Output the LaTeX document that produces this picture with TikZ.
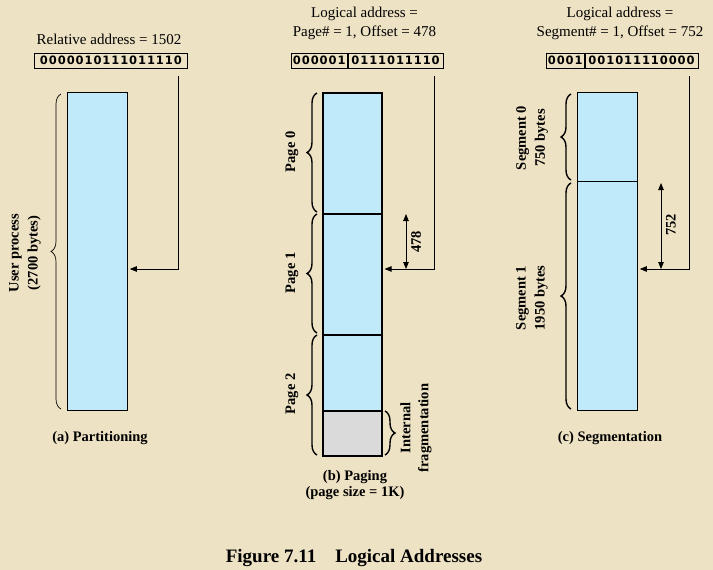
\documentclass[tikz,border=0pt]{standalone}
\usepackage{fontspec}
\setmainfont{Liberation Serif}
\newfontfamily\addrfont[LetterSpace=8]{DejaVu Sans}
\usetikzlibrary{arrows.meta,decorations.pathreplacing}
\definecolor{bg}{RGB}{238,226,196}
\definecolor{mem}{RGB}{192,234,250}
\definecolor{frag}{RGB}{218,218,218}
\begin{document}
\begin{tikzpicture}[x=1pt,y=-1pt,
  lbl/.style={font=\fontsize{14.5}{19}\selectfont\bfseries, align=center, inner sep=0},
  ttl/.style={font=\fontsize{15}{19}\selectfont, align=center, inner sep=0},
  addr/.style={draw, line width=0.8pt, font=\addrfont\bfseries\fontsize{11.5}{12}\selectfont,
    inner sep=0, minimum height=15pt, anchor=west},
  memthin/.style={draw, line width=0.8pt, fill=mem, inner sep=0, anchor=north west},
  memthick/.style={draw, line width=1.6pt, fill=mem, inner sep=0, anchor=north west},
  ptr/.style={line width=0.8pt, -{Triangle[length=7pt,width=5.5pt]}, shorten >=2pt},
  dim/.style={line width=0.8pt, {Triangle[length=7pt,width=5.5pt]}-{Triangle[length=7pt,width=5.5pt]}},
  brc/.style={decorate, decoration={brace, amplitude=10pt}},
]
\fill[bg] (0,0) rectangle (713,570);
\useasboundingbox (0,0) rectangle (713,570);

% ---------- (a) Partitioning ----------
\node[ttl] (tA) at (109,39) {Relative address = 1502};
\node[addr, minimum width=153pt] (adA) at (34,60.5) {0000010111011110};
\node[memthin, minimum width=60pt, minimum height=318pt] (memA) at (67,92) {};
\draw[brc, line width=0.7pt] (61,409) -- (61,94);
\node[lbl, rotate=90] (lA) at (25,253) {User process\\(2700 bytes)};
\coordinate (pa1) at (178,76);
\coordinate (pa2) at (178,269);
\draw[ptr] (pa1) -- (pa2) -- (memA.east |- pa2);
\node[lbl] (cA) at (100,438) {(a) Partitioning};

% ---------- (b) Paging ----------
\node[ttl] (tB) at (364.5,23.5) {Logical address =\\Page\# = 1, Offset = 478};
\node[addr, minimum width=56.3pt] (adB1) at (290.7,60.5) {000001};
\node[addr, minimum width=94.7pt] (adB2) at (adB1.east) {0111011110};
\node[memthick, minimum width=59pt, minimum height=121pt] (pg0) at (322,92) {};
\node[memthick, minimum width=59pt, minimum height=121pt] (pg1) at (322,213) {};
\node[memthick, minimum width=59pt, minimum height=76pt] (pg2) at (322,334) {};
\node[memthick, fill=frag, minimum width=59pt, minimum height=45pt] (fr) at (322,410) {};
\draw[brc, line width=1.4pt] (317,212) -- (317,93);
\draw[brc, line width=1.4pt] (317,333) -- (317,214);
\draw[brc, line width=1.4pt] (317,455) -- (317,335);
\draw[brc, line width=1.4pt] (385,411) -- (385,455);
\node[lbl, rotate=90] (lP0) at (292,152) {Page 0};
\node[lbl, rotate=90] (lP1) at (292,273) {Page 1};
\node[lbl, rotate=90] (lP2) at (292,394) {Page 2};
\node[lbl, rotate=90, font=\fontsize{14.5}{18}\selectfont\bfseries] (lIF) at (416,428) {Internal\\fragmentation};
\coordinate (pb1) at (434,76);
\coordinate (pb2) at (434,269);
\draw[ptr] (pb1) -- (pb2) -- (pg1.east |- pb2);
\coordinate (db1) at (406,214);
\coordinate (db2) at (406,269);
\draw[dim] (db1) -- (db2);
\node[lbl, rotate=90] (d478) at (416,242) {478};
\node[lbl, font=\fontsize{14.5}{16}\selectfont\bfseries] (cB) at (355,485) {(b) Paging\\(page size = 1K)};

% ---------- (c) Segmentation ----------
\node[ttl] (tC) at (620,23.5) {Logical address =\\Segment\# = 1, Offset = 752};
\node[addr, minimum width=38.3pt] (adC1) at (545.7,60.5) {0001};
\node[addr, minimum width=112.7pt] (adC2) at (adC1.east) {001011110000};
\node[memthin, minimum width=60pt, minimum height=89pt] (sg0) at (577,92) {};
\node[memthin, minimum width=60pt, minimum height=229pt] (sg1) at (577,181) {};
\draw[brc, line width=1.4pt] (571,180) -- (571,94);
\draw[brc, line width=1.4pt] (571,409) -- (571,183);
\node[lbl, rotate=90] (lS0) at (532,138) {Segment 0\\750 bytes};
\node[lbl, rotate=90] (lS1) at (532,298) {Segment 1\\1950 bytes};
\coordinate (pc1) at (689,76);
\coordinate (pc2) at (689,269);
\draw[ptr] (pc1) -- (pc2) -- (sg1.east |- pc2);
\coordinate (dc1) at (661,183);
\coordinate (dc2) at (661,269);
\draw[dim] (dc1) -- (dc2);
\node[lbl, rotate=90] (d752) at (671,225) {752};
\node[lbl] (cC) at (610,438) {(c) Segmentation};

% ---------- Figure title ----------
\node[lbl, font=\fontsize{19}{21}\selectfont\bfseries] (fig) at (354,558) {Figure 7.11\quad Logical Addresses};
\end{tikzpicture}
\end{document}
